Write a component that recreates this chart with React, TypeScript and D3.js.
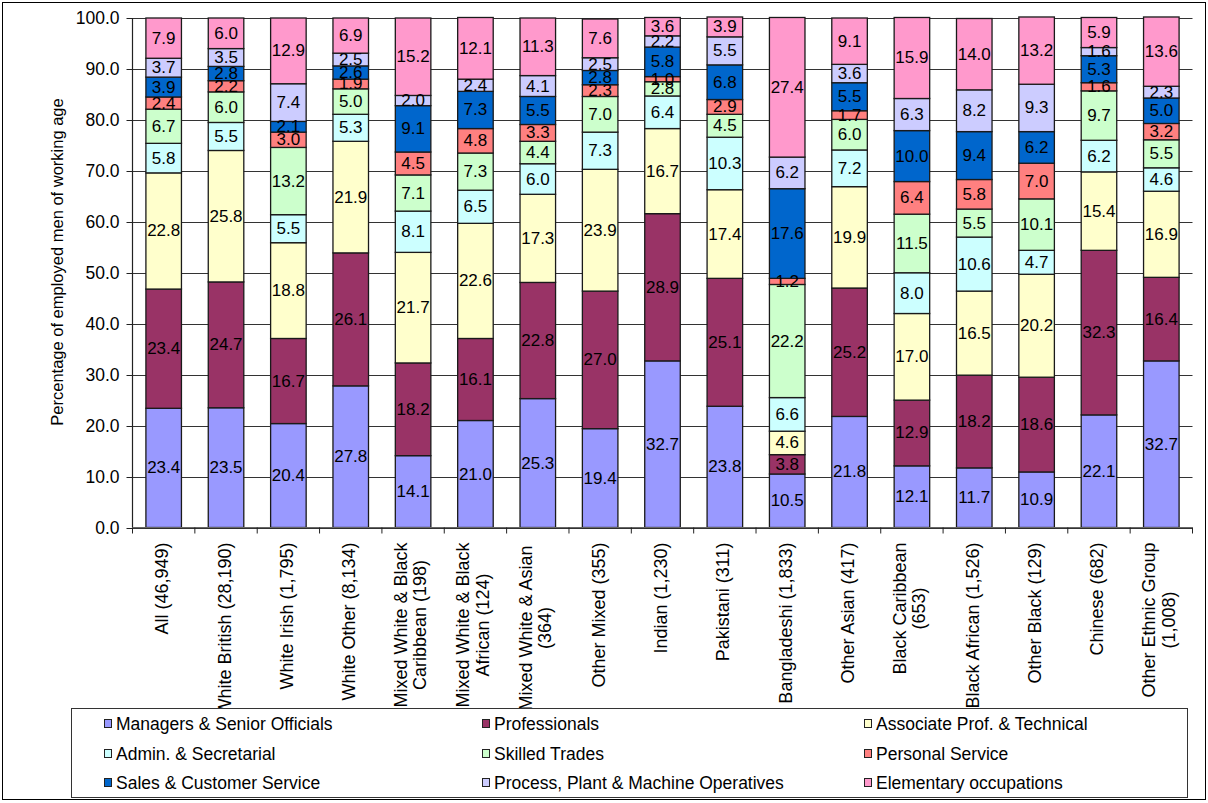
import React from "react";
import * as d3 from "d3";

const categories = [
  "All", "White British", "White Irish", "White Other", "Mixed W&BC", "Mixed W&BA",
  "Mixed W&A", "Other Mixed", "Indian", "Pakistani", "Bangladeshi", "Other Asian",
  "Black Caribbean", "Black African", "Other Black", "Chinese", "Other Ethnic Group",
];

const categoryLabels: string[][] = [
  ["All (46,949)"],
  ["White British (28,190)"],
  ["White Irish (1,795)"],
  ["White Other (8,134)"],
  ["Mixed White & Black", "Caribbean (198)"],
  ["Mixed White & Black", "African (124)"],
  ["Mixed White &  Asian", "(364)"],
  ["Other Mixed (355)"],
  ["Indian (1,230)"],
  ["Pakistani (311)"],
  ["Bangladeshi (1,833)"],
  ["Other Asian (417)"],
  ["Black Caribbean", "(653)"],
  ["Black African (1,526)"],
  ["Other Black (129)"],
  ["Chinese (682)"],
  ["Other Ethnic Group", "(1,008)"],
];

const seriesNames = [
  "Managers & Senior Officials",
  "Professionals",
  "Associate Prof. & Technical",
  "Admin. & Secretarial",
  "Skilled Trades",
  "Personal Service",
  "Sales & Customer Service",
  "Process, Plant & Machine Operatives",
  "Elementary occupations",
];

const seriesColors = [
  "#9999FF", "#993366", "#FFFFCC", "#CCFFFF", "#CCFFCC",
  "#FF8080", "#0066CC", "#CCCCFF", "#FF99CC",
];

const managers = [23.4, 23.5, 20.4, 27.8, 14.1, 21.0, 25.3, 19.4, 32.7, 23.8, 10.5, 21.8, 12.1, 11.7, 10.9, 22.1, 32.7];
const professionals = [23.4, 24.7, 16.7, 26.1, 18.2, 16.1, 22.8, 27.0, 28.9, 25.1, 3.8, 25.2, 12.9, 18.2, 18.6, 32.3, 16.4];
const associate = [22.8, 25.8, 18.8, 21.9, 21.7, 22.6, 17.3, 23.9, 16.7, 17.4, 4.6, 19.9, 17.0, 16.5, 20.2, 15.4, 16.9];
const admin = [5.8, 5.5, 5.5, 5.3, 8.1, 6.5, 6.0, 7.3, 6.4, 10.3, 6.6, 7.2, 8.0, 10.6, 4.7, 6.2, 4.6];
const skilled = [6.7, 6.0, 13.2, 5.0, 7.1, 7.3, 4.4, 7.0, 2.8, 4.5, 22.2, 6.0, 11.5, 5.5, 10.1, 9.7, 5.5];
const personal = [2.4, 2.2, 3.0, 1.9, 4.5, 4.8, 3.3, 2.3, 1.0, 2.9, 1.2, 1.7, 6.4, 5.8, 7.0, 1.6, 3.2];
const sales = [3.9, 2.8, 2.1, 2.6, 9.1, 7.3, 5.5, 2.8, 5.8, 6.8, 17.6, 5.5, 10.0, 9.4, 6.2, 5.3, 5.0];
const process = [3.7, 3.5, 7.4, 2.5, 2.0, 2.4, 4.1, 2.5, 2.2, 5.5, 6.2, 3.6, 6.3, 8.2, 9.3, 1.6, 2.3];
const elementary = [7.9, 6.0, 12.9, 6.9, 15.2, 12.1, 11.3, 7.6, 3.6, 3.9, 27.4, 9.1, 15.9, 14.0, 13.2, 5.9, 13.6];

const seriesValues = [managers, professionals, associate, admin, skilled, personal, sales, process, elementary];

const yTicks = [0, 10, 20, 30, 40, 50, 60, 70, 80, 90, 100];

const FONT = "'Liberation Sans', Arial, sans-serif";

let ctxCache: CanvasRenderingContext2D | null = null;
function measure(text: string, font: string): number {
  if (!ctxCache) ctxCache = document.createElement("canvas").getContext("2d");
  if (!ctxCache) return text.length * 9;
  ctxCache.font = font;
  return ctxCache.measureText(text).width;
}

export default function App() {
  const W = 1208;
  const H = 803;
  const left = 132.5;
  const right = 1192.5;
  const top = 18;
  const bottom = 527.5;

  const x = d3
    .scaleBand<string>()
    .domain(categories)
    .range([left, right])
    .paddingInner(0.43)
    .paddingOuter(0.215);
  const y = d3.scaleLinear().domain([0, 100]).range([bottom, top]);
  const step = x.step();

  const rows = categories.map((c, i) => {
    const r: any = { cat: c };
    seriesNames.forEach((s, j) => (r[s] = seriesValues[j][i]));
    return r;
  });
  const stacked = d3.stack<any>().keys(seriesNames)(rows);

  const catFontSize = 18;
  const catFont = `${catFontSize}px 'Liberation Sans', Arial, sans-serif`;
  const labelTop = 542.5;

  const legendCols = [104, 482, 864];
  const legendRows = [724, 754, 783];

  return (
    <div style={{ position: "absolute", left: 0, top: 0, width: W, height: H, background: "#fff" }}>
      <svg width={W} height={H} viewBox={`0 0 ${W} ${H}`} style={{ display: "block", fontFamily: FONT }}>
        <rect x={0} y={0} width={W} height={H} fill="#fff" />
        {/* gridlines */}
        {yTicks.map((t) => (
          <line key={"g" + t} x1={left} x2={right} y1={Math.round(y(t)) + 0.5} y2={Math.round(y(t)) + 0.5} stroke="#333" strokeWidth={1} />
        ))}
        {/* y axis */}
        <line x1={left} x2={left} y1={top} y2={bottom} stroke="#222" strokeWidth={1.2} />
        {yTicks.map((t) => (
          <g key={"yt" + t}>
            <line x1={left - 6} x2={left} y1={Math.round(y(t)) + 0.5} y2={Math.round(y(t)) + 0.5} stroke="#222" strokeWidth={1} />
            <text x={119.5} y={y(t)} textAnchor="end" dominantBaseline="central" fontSize={17.5} fill="#000">
              {t.toFixed(1)}
            </text>
          </g>
        ))}
        <text
          transform={`translate(57,262) rotate(-90)`}
          textAnchor="middle"
          dominantBaseline="central"
          fontSize={16.5}
          fill="#000"
        >
          Percentage of employed men of working age
        </text>
        {/* bars */}
        {stacked.map((layer, si) =>
          layer.map((d, ci) => (
            <rect
              key={`b${si}-${ci}`}
              x={x(categories[ci])!}
              y={y(d[1])}
              width={x.bandwidth()}
              height={y(d[0]) - y(d[1])}
              fill={seriesColors[si]}
              stroke="#1a1a1a"
              strokeWidth={1.3}
            />
          ))
        )}
        {/* value labels */}
        {stacked.map((layer, si) =>
          layer.map((d, ci) => (
            <text
              key={`v${si}-${ci}`}
              x={x(categories[ci])! + x.bandwidth() / 2}
              y={(y(d[0]) + y(d[1])) / 2}
              textAnchor="middle"
              dominantBaseline="central"
              fontSize={17}
              fill="#000"
            >
              {seriesValues[si][ci].toFixed(1)}
            </text>
          ))
        )}
        {/* x axis */}
        <line x1={left} x2={right} y1={bottom} y2={bottom} stroke="#666" strokeWidth={1.2} />
        {d3.range(categories.length + 1).map((i) => (
          <line key={"xt" + i} x1={left + i * step} x2={left + i * step} y1={bottom} y2={bottom + 6} stroke="#222" strokeWidth={1} />
        ))}
        {/* category labels */}
        {categoryLabels.map((lines, i) => {
          const cx = x(categories[i])! + x.bandwidth() / 2;
          if (lines.length === 1) {
            return (
              <text
                key={"c" + i}
                transform={`translate(${cx - 1.5},${labelTop}) rotate(-90)`}
                textAnchor="end"
                dominantBaseline="central"
                fontSize={catFontSize}
                fill="#000"
              >
                {lines[0]}
              </text>
            );
          }
          const maxW = Math.max(...lines.map((l) => measure(l, catFont)));
          const cy = labelTop + maxW / 2;
          const spacing = 19.5;
          return (
            <g key={"c" + i}>
              {lines.map((l, k) => (
                <text
                  key={k}
                  transform={`translate(${cx - 2.5 + (k - (lines.length - 1) / 2) * spacing},${cy}) rotate(-90)`}
                  textAnchor="middle"
                  dominantBaseline="central"
                  fontSize={catFontSize}
                  fill="#000"
                >
                  {l}
                </text>
              ))}
            </g>
          );
        })}
        {/* legend */}
        <rect x={71.5} y={708.5} width={1116} height={89} fill="#fff" stroke="#333" strokeWidth={1} />
        {seriesNames.map((s, i) => {
          const col = i % 3;
          const row = Math.floor(i / 3);
          const lx = legendCols[col];
          const ly = legendRows[row];
          return (
            <g key={"l" + i}>
              <rect x={lx + 0.5} y={ly - 4.5} width={7} height={8} fill={seriesColors[i]} stroke="#222" strokeWidth={1} />
              <text x={lx + 12} y={ly} dominantBaseline="central" fontSize={17.5} fill="#000">
                {s}
              </text>
            </g>
          );
        })}
        {/* outer border */}
        <rect x={2.5} y={2.5} width={1203} height={797} fill="none" stroke="#000" strokeWidth={1} />
      </svg>
    </div>
  );
}
